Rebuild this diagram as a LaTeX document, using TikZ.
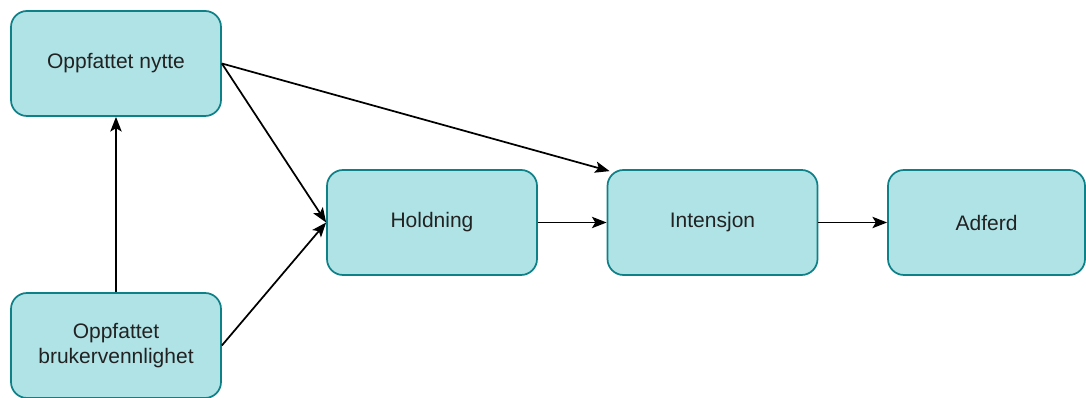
\documentclass[tikz,border=0pt]{standalone}
\usepackage{fontspec}
\setmainfont{Liberation Sans}
\usetikzlibrary{arrows.meta,calc}
\definecolor{boxfill}{HTML}{B0E3E6}
\definecolor{boxline}{HTML}{0E8088}
\definecolor{txt}{HTML}{222222}
\begin{document}
\begin{tikzpicture}[x=0.75pt,y=-0.75pt,
  box/.style={draw=boxline, fill=boxfill, line width=1.3pt, rounded corners=12pt,
    minimum width=157.5pt, minimum height=78.75pt, align=center, text=txt,
    font=\fontsize{15.75}{18.5}\selectfont, inner sep=0pt},
  link/.style={draw=black, line width=1.3pt,
    -{Stealth[length=11pt,width=8.5pt,inset=2.5pt]}}]
\useasboundingbox (0,0) rectangle (1086,398);
\node[box] (nytte) at (116,63.5) {Oppfattet nytte};
\node[box] (bruk) at (116,345.5) {Oppfattet\\brukervennlighet};
\node[box] (hold) at (432,222.5) {Holdning};
\node[box] (int) at (712.5,222.5) {Intensjon};
\node[box, minimum width=147.75pt] (adf) at (986.5,222.5) {Adferd};
\draw[link] (bruk.north) -- (nytte.south);
\draw[link] (nytte.east) -- (hold.west);
\draw[link] (bruk.east) -- (hold.west);
\draw[link] (nytte.east) -- ($(int.north west)+(3,2)$);
\draw[link] (hold.east) -- (int.west);
\draw[link] (int.east) -- (adf.west);
\end{tikzpicture}
\end{document}
